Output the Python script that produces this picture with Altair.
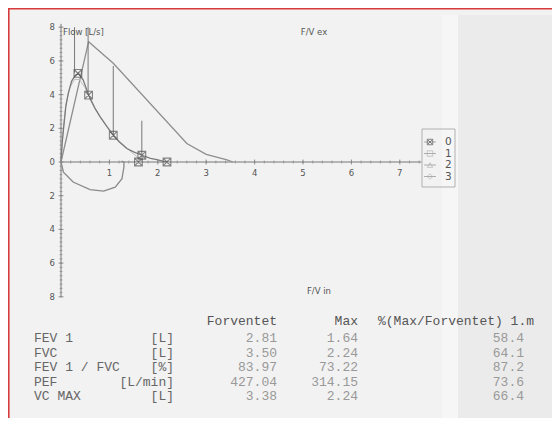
import altair as alt
import pandas as pd

# ---------------- data ----------------
pred_vol = [0, 0.57, 1.08, 2.6, 3.0, 3.43, 3.55]
pred_flow = [0, 7.14, 5.86, 1.1, 0.45, 0.12, 0]

exp0_vol = [0, 0.02, 0.05, 0.1, 0.15, 0.22, 0.3, 0.36, 0.46, 0.57, 0.7, 0.81, 0.95, 1.08,
            1.2, 1.36, 1.5, 1.67, 1.85, 1.98, 2.1, 2.19]
exp0_flow = [0, 1.0, 1.9, 3.3, 4.07, 4.8, 5.15, 5.26, 4.86, 3.97, 3.2, 2.68, 2.1, 1.59,
             1.2, 0.8, 0.6, 0.4, 0.22, 0.14, 0.05, 0]

exp1_vol = [0, 0.04, 0.1, 0.18, 0.28, 0.38, 0.5, 0.62, 0.8, 1.0, 1.2, 1.45, 1.7]
exp1_flow = [0, 1.8, 3.4, 4.4, 4.9, 4.9, 4.4, 3.6, 2.7, 1.9, 1.25, 0.6, 0]

insp0_vol = [0, 0.05, 0.25, 0.6, 0.88, 1.12, 1.26, 1.3, 1.3, 1.25]
insp0_flow = [0, -0.6, -1.19, -1.64, -1.73, -1.49, -0.99, -0.3, 0, 0.05]

marker_vol = [0.35, 0.57, 1.08, 1.67, 1.6, 2.19]
marker_flow = [5.26, 3.97, 1.59, 0.4, 0.0, 0.0]

vline_vol = [0.28, 0.56, 1.08, 1.67]
vline_top = [8.0, 8.0, 5.7, 2.45]
vline_bot = [5.3, 4.0, 1.6, 0.45]

x_ticks = [1, 2, 3, 4, 5, 6, 7]
y_ticks = [-8, -6, -4, -2, 0, 2, 4, 6, 8]
x_axis_end = 7.45
y_axis_range = [-8.0, 8.2]

legend_names = ["0", "1", "2", "3"]
legend_shapes = ["M-1,-1L1,-1L1,1L-1,1Z M-1,-1L1,1 M-1,1L1,-1", "square", "triangle-up", "diamond"]
legend_colors = ["#555555", "#b5b5b5", "#b5b5b5", "#b5b5b5"]

row_labels = ["FEV 1", "FVC", "FEV 1 / FVC", "PEF", "VC MAX"]
row_units = ["[L]", "[L]", "[%]", "[L/min]", "[L]"]
forventet = [2.81, 3.50, 83.97, 427.04, 3.38]
max_vals = [1.64, 2.24, 73.22, 314.15, 2.24]
pct_vals = [58.4, 64.1, 87.2, 73.6, 66.4]
headers = ["Forventet", "Max", "%(Max/Forventet) 1.m"]

# ---------------- layout ----------------
W, H = 544, 410
X0_PX, Y0_PX = 53, 154
XU, YU = 48.4, 16.85
XD = [-X0_PX / XU, (W - X0_PX) / XU]
YD = [(Y0_PX - H) / YU, Y0_PX / YU]


def X(f):
    return alt.X(f, type="quantitative", scale=alt.Scale(domain=XD, nice=False, zero=False), axis=None)


def Y(f):
    return alt.Y(f, type="quantitative", scale=alt.Scale(domain=YD, nice=False, zero=False), axis=None)


def PX(f):
    return alt.X(f, type="quantitative", scale=None, axis=None)


def PY(f):
    return alt.Y(f, type="quantitative", scale=None, axis=None)


def curve(vol, flow):
    return pd.DataFrame({"v": vol, "f": flow, "i": range(len(vol))})


one = pd.DataFrame({"a": [0]})

strip = alt.Chart(one).mark_rect(fill="#ebebeb").encode(
    x=alt.value(450), x2=alt.value(W), y=alt.value(7), y2=alt.value(H))
band = alt.Chart(one).mark_rect(fill="#f6f6f6").encode(
    x=alt.value(434), x2=alt.value(450), y=alt.value(7), y2=alt.value(H))
red_top = alt.Chart(one).mark_rule(stroke="#d8393b", strokeWidth=1.6).encode(
    x=alt.value(0), x2=alt.value(W), y=alt.value(0.8))
red_left = alt.Chart(one).mark_rule(stroke="#d8393b", strokeWidth=1.6).encode(
    x=alt.value(0.8), y=alt.value(0), y2=alt.value(H))

xaxis = alt.Chart(pd.DataFrame({"x": [0], "x2": [x_axis_end], "y": [0]})).mark_rule(
    stroke="#777", strokeWidth=1).encode(x=X("x"), x2="x2", y=Y("y"))
yaxis = alt.Chart(pd.DataFrame({"x": [0], "y": [y_axis_range[0]], "y2": [y_axis_range[1]]})).mark_rule(
    stroke="#777", strokeWidth=1).encode(x=X("x"), y=Y("y"), y2="y2")

minor_x = pd.DataFrame({"x": [i * 0.2 for i in range(1, 38)], "y": 0})
minor_y = pd.DataFrame({"y": [-8 + i * 0.25 for i in range(0, 65)], "x": 0})
xt_minor = alt.Chart(minor_x).mark_tick(orient="vertical", size=3, thickness=1, color="#888").encode(
    x=X("x"), y=Y("y"))
yt_minor = alt.Chart(minor_y).mark_tick(orient="horizontal", size=3, thickness=1, color="#888").encode(
    x=X("x"), y=Y("y"))
xt_df = pd.DataFrame({"x": x_ticks, "y": 0, "lab": [str(t) for t in x_ticks]})
yt_df = pd.DataFrame({"y": y_ticks, "x": 0, "lab": [str(abs(t)) for t in y_ticks]})
xt_major = alt.Chart(xt_df).mark_tick(orient="vertical", size=5, thickness=1, color="#777").encode(
    x=X("x"), y=Y("y"))
yt_major = alt.Chart(yt_df).mark_tick(orient="horizontal", size=5, thickness=1, color="#777").encode(
    x=X("x"), y=Y("y"))
xt_lab = alt.Chart(xt_df).mark_text(dy=11, fontSize=8.5, font="DejaVu Sans", color="#555").encode(
    x=X("x"), y=Y("y"), text="lab:N")
yt_lab = alt.Chart(yt_df).mark_text(dx=-6, align="right", baseline="middle", fontSize=8.5,
                                    font="DejaVu Sans", color="#555").encode(
    x=X("x"), y=Y("y"), text="lab:N")


def line(df, color, width):
    return alt.Chart(df).mark_line(color=color, strokeWidth=width).encode(
        x=X("v"), y=Y("f"), order=alt.Order("i:Q"))


pred = line(curve(pred_vol, pred_flow), "#8e8e8e", 1.3)
exp1 = line(curve(exp1_vol, exp1_flow), "#bdbdbd", 1.0)
exp0 = line(curve(exp0_vol, exp0_flow), "#7a7a7a", 1.3)
insp0 = line(curve(insp0_vol, insp0_flow), "#8a8a8a", 1.3)

vl_df = pd.DataFrame({"v": vline_vol, "t": vline_top, "b": vline_bot})
vlines = alt.Chart(vl_df).mark_rule(color="#777", strokeWidth=1).encode(x=X("v"), y=Y("t"), y2="b")

mk_df = pd.DataFrame({"v": marker_vol, "f": marker_flow})
markers = alt.Chart(mk_df).mark_point(shape=legend_shapes[0], size=60, filled=False,
                                      stroke="#555", strokeWidth=1.1).encode(x=X("v"), y=Y("f"))

titles = pd.DataFrame({"px": [55, 306, 311], "py": [24, 24, 283],
                       "t": ["Flow [L/s]", "F/V ex", "F/V in"]})
title_l = alt.Chart(titles.iloc[[0]]).mark_text(align="left", fontSize=8.5, font="DejaVu Sans",
                                                color="#555").encode(x=PX("px"), y=PY("py"), text="t:N")
title_c = alt.Chart(titles.iloc[1:]).mark_text(align="center", fontSize=8.5, font="DejaVu Sans",
                                               color="#555").encode(x=PX("px"), y=PY("py"), text="t:N")

# legend
lg = pd.DataFrame({"name": legend_names, "shape": legend_shapes, "col": legend_colors,
                   "idx": range(len(legend_names))})
lg["py"] = 134 + lg["idx"] * 11.5
lg["px_sym"] = 422
lg["px_txt"] = 437
leg_box = alt.Chart(one).mark_rect(fillOpacity=0, stroke="#b0b0b0", strokeWidth=1).encode(
    x=alt.value(414), x2=alt.value(447), y=alt.value(121), y2=alt.value(179))
leg_line = alt.Chart(lg).mark_point(shape="stroke", size=140, color="#999", strokeWidth=1).encode(
    x=PX("px_sym"), y=PY("py"), opacity=alt.value(0.8))
leg_sym = alt.Chart(lg).mark_point(filled=False, size=30, strokeWidth=1).encode(
    x=PX("px_sym"), y=PY("py"), shape=alt.Shape("shape:N", scale=None),
    stroke=alt.Stroke("col:N", scale=None))
leg_txt = alt.Chart(lg).mark_text(align="left", baseline="middle", fontSize=10.5,
                                  font="DejaVu Sans", color="#555").encode(
    x=PX("px_txt"), y=PY("py"), text="name:N")

# table
ROW0, DROW = 330, 14.5
tb = pd.DataFrame({"lab": row_labels, "unit": row_units, "fv": forventet, "mx": max_vals,
                   "pc": pct_vals, "r": range(len(row_labels))})
tb["py"] = ROW0 + tb["r"] * DROW
tb["x_lab"] = 26
tb["x_unit"] = 166
tb["x_fv"] = 269
tb["x_mx"] = 350
tb["x_pc"] = 516
FONT = "Liberation Mono"
FS = 13
t_lab = alt.Chart(tb).mark_text(align="left", baseline="middle", font=FONT, fontSize=FS,
                                color="#666").encode(x=PX("x_lab"), y=PY("py"), text="lab:N")
t_unit = alt.Chart(tb).mark_text(align="right", baseline="middle", font=FONT, fontSize=FS,
                                 color="#666").encode(x=PX("x_unit"), y=PY("py"), text="unit:N")
t_fv = alt.Chart(tb).mark_text(align="right", baseline="middle", font=FONT, fontSize=FS,
                               color="#999").encode(x=PX("x_fv"), y=PY("py"),
                                                    text=alt.Text("fv:Q", format=".2f"))
t_mx = alt.Chart(tb).mark_text(align="right", baseline="middle", font=FONT, fontSize=FS,
                               color="#999").encode(x=PX("x_mx"), y=PY("py"),
                                                    text=alt.Text("mx:Q", format=".2f"))
t_pc = alt.Chart(tb).mark_text(align="right", baseline="middle", font=FONT, fontSize=FS,
                               color="#999").encode(x=PX("x_pc"), y=PY("py"),
                                                    text=alt.Text("pc:Q", format=".1f"))
hd = pd.DataFrame({"t": headers, "px": [269, 350, 370], "py": [ROW0 - 17] * 3})
h_r = alt.Chart(hd.iloc[:2]).mark_text(align="right", baseline="middle", font=FONT, fontSize=FS,
                                       color="#555").encode(x=PX("px"), y=PY("py"), text="t:N")
h_l = alt.Chart(hd.iloc[2:]).mark_text(align="left", baseline="middle", font=FONT, fontSize=FS,
                                       color="#555").encode(x=PX("px"), y=PY("py"), text="t:N")

chart = alt.layer(
    strip, band, red_top, red_left,
    xaxis, yaxis, xt_minor, yt_minor, xt_major, yt_major, xt_lab, yt_lab,
    pred, exp1, exp0, insp0, vlines, markers,
    title_l, title_c,
    leg_box, leg_line, leg_sym, leg_txt,
    t_lab, t_unit, t_fv, t_mx, t_pc, h_r, h_l,
).resolve_scale(x="independent", y="independent").properties(
    width=W, height=H, background="#f2f2f2", padding=0,
    autosize=alt.AutoSizeParams(type="none"),
).configure_view(stroke=None)

chart.save("out.html", embed_options={"renderer": "svg", "actions": False})
